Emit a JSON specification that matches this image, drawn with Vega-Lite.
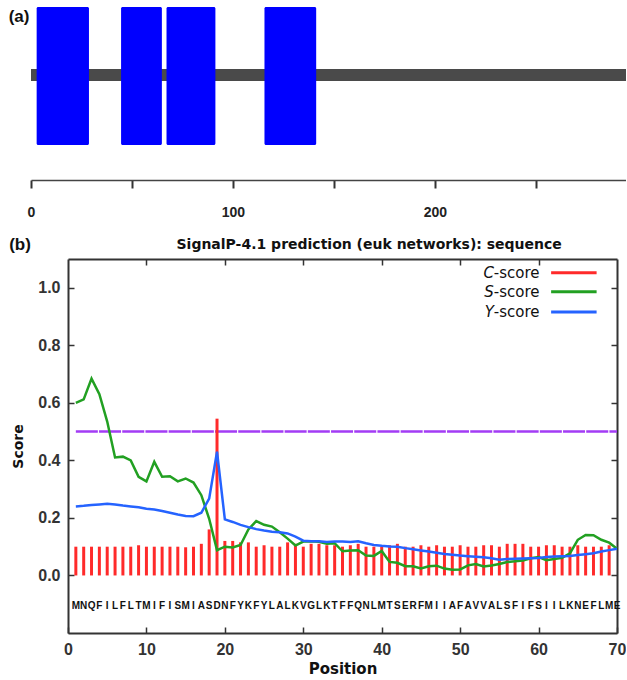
{
  "$schema": "https://vega.github.io/schema/vega-lite/v6.json",
  "padding": {"left": 8, "top": 0, "right": 0, "bottom": 0},
  "spacing": 17,
  "config": {"view": {"stroke": null}, "axis": {"grid": false}},
  "datasets": {
    "protein": [{"start": 0, "end": 300}],
    "domains": [
      {"start": 2.8, "end": 28.7},
      {"start": 44.6, "end": 64.8},
      {"start": 67.1, "end": 91.3},
      {"start": 115.6, "end": 141.2}
    ],
    "seq": [
      {"pos": 1, "aa": "M", "c": 0.100, "s": 0.600, "y": 0.240},
      {"pos": 2, "aa": "N", "c": 0.100, "s": 0.612, "y": 0.242},
      {"pos": 3, "aa": "Q", "c": 0.100, "s": 0.684, "y": 0.245},
      {"pos": 4, "aa": "F", "c": 0.100, "s": 0.630, "y": 0.247},
      {"pos": 5, "aa": "I", "c": 0.100, "s": 0.535, "y": 0.249},
      {"pos": 6, "aa": "L", "c": 0.100, "s": 0.410, "y": 0.247},
      {"pos": 7, "aa": "F", "c": 0.100, "s": 0.413, "y": 0.243},
      {"pos": 8, "aa": "L", "c": 0.100, "s": 0.400, "y": 0.240},
      {"pos": 9, "aa": "T", "c": 0.105, "s": 0.343, "y": 0.237},
      {"pos": 10, "aa": "M", "c": 0.100, "s": 0.327, "y": 0.232},
      {"pos": 11, "aa": "I", "c": 0.100, "s": 0.395, "y": 0.229},
      {"pos": 12, "aa": "F", "c": 0.100, "s": 0.343, "y": 0.224},
      {"pos": 13, "aa": "I", "c": 0.100, "s": 0.345, "y": 0.218},
      {"pos": 14, "aa": "S", "c": 0.100, "s": 0.327, "y": 0.212},
      {"pos": 15, "aa": "M", "c": 0.098, "s": 0.337, "y": 0.207},
      {"pos": 16, "aa": "I", "c": 0.100, "s": 0.323, "y": 0.206},
      {"pos": 17, "aa": "A", "c": 0.110, "s": 0.279, "y": 0.218},
      {"pos": 18, "aa": "S", "c": 0.160, "s": 0.197, "y": 0.267},
      {"pos": 19, "aa": "D", "c": 0.545, "s": 0.088, "y": 0.430},
      {"pos": 20, "aa": "N", "c": 0.120, "s": 0.100, "y": 0.195},
      {"pos": 21, "aa": "F", "c": 0.120, "s": 0.097, "y": 0.186},
      {"pos": 22, "aa": "Y", "c": 0.115, "s": 0.106, "y": 0.176},
      {"pos": 23, "aa": "K", "c": 0.115, "s": 0.160, "y": 0.168},
      {"pos": 24, "aa": "F", "c": 0.100, "s": 0.189, "y": 0.161},
      {"pos": 25, "aa": "Y", "c": 0.105, "s": 0.176, "y": 0.156},
      {"pos": 26, "aa": "L", "c": 0.100, "s": 0.170, "y": 0.152},
      {"pos": 27, "aa": "A", "c": 0.100, "s": 0.150, "y": 0.150},
      {"pos": 28, "aa": "L", "c": 0.115, "s": 0.128, "y": 0.146},
      {"pos": 29, "aa": "K", "c": 0.110, "s": 0.104, "y": 0.135},
      {"pos": 30, "aa": "V", "c": 0.100, "s": 0.118, "y": 0.121},
      {"pos": 31, "aa": "G", "c": 0.110, "s": 0.119, "y": 0.119},
      {"pos": 32, "aa": "L", "c": 0.110, "s": 0.117, "y": 0.119},
      {"pos": 33, "aa": "K", "c": 0.105, "s": 0.110, "y": 0.116},
      {"pos": 34, "aa": "T", "c": 0.105, "s": 0.112, "y": 0.118},
      {"pos": 35, "aa": "F", "c": 0.100, "s": 0.084, "y": 0.118},
      {"pos": 36, "aa": "F", "c": 0.105, "s": 0.087, "y": 0.116},
      {"pos": 37, "aa": "Q", "c": 0.110, "s": 0.088, "y": 0.119},
      {"pos": 38, "aa": "N", "c": 0.100, "s": 0.069, "y": 0.112},
      {"pos": 39, "aa": "L", "c": 0.100, "s": 0.068, "y": 0.106},
      {"pos": 40, "aa": "M", "c": 0.100, "s": 0.085, "y": 0.103},
      {"pos": 41, "aa": "T", "c": 0.105, "s": 0.047, "y": 0.101},
      {"pos": 42, "aa": "S", "c": 0.110, "s": 0.044, "y": 0.100},
      {"pos": 43, "aa": "E", "c": 0.100, "s": 0.032, "y": 0.095},
      {"pos": 44, "aa": "R", "c": 0.100, "s": 0.032, "y": 0.091},
      {"pos": 45, "aa": "F", "c": 0.105, "s": 0.024, "y": 0.087},
      {"pos": 46, "aa": "M", "c": 0.100, "s": 0.032, "y": 0.083},
      {"pos": 47, "aa": "I", "c": 0.105, "s": 0.034, "y": 0.079},
      {"pos": 48, "aa": "I", "c": 0.100, "s": 0.024, "y": 0.075},
      {"pos": 49, "aa": "A", "c": 0.100, "s": 0.020, "y": 0.072},
      {"pos": 50, "aa": "F", "c": 0.105, "s": 0.021, "y": 0.069},
      {"pos": 51, "aa": "A", "c": 0.100, "s": 0.035, "y": 0.067},
      {"pos": 52, "aa": "V", "c": 0.100, "s": 0.040, "y": 0.065},
      {"pos": 53, "aa": "V", "c": 0.105, "s": 0.031, "y": 0.063},
      {"pos": 54, "aa": "A", "c": 0.105, "s": 0.035, "y": 0.060},
      {"pos": 55, "aa": "L", "c": 0.100, "s": 0.040, "y": 0.055},
      {"pos": 56, "aa": "S", "c": 0.110, "s": 0.047, "y": 0.057},
      {"pos": 57, "aa": "F", "c": 0.110, "s": 0.049, "y": 0.058},
      {"pos": 58, "aa": "I", "c": 0.110, "s": 0.052, "y": 0.059},
      {"pos": 59, "aa": "F", "c": 0.100, "s": 0.060, "y": 0.060},
      {"pos": 60, "aa": "S", "c": 0.100, "s": 0.064, "y": 0.061},
      {"pos": 61, "aa": "I", "c": 0.105, "s": 0.053, "y": 0.064},
      {"pos": 62, "aa": "I", "c": 0.105, "s": 0.057, "y": 0.066},
      {"pos": 63, "aa": "L", "c": 0.100, "s": 0.061, "y": 0.067},
      {"pos": 64, "aa": "K", "c": 0.100, "s": 0.077, "y": 0.068},
      {"pos": 65, "aa": "N", "c": 0.105, "s": 0.124, "y": 0.071},
      {"pos": 66, "aa": "E", "c": 0.100, "s": 0.141, "y": 0.074},
      {"pos": 67, "aa": "F", "c": 0.100, "s": 0.140, "y": 0.077},
      {"pos": 68, "aa": "L", "c": 0.100, "s": 0.124, "y": 0.083},
      {"pos": 69, "aa": "M", "c": 0.105, "s": 0.114, "y": 0.088},
      {"pos": 70, "aa": "E", "c": null, "s": 0.093, "y": 0.093}
    ]
  },
  "vconcat": [
    {
      "width": 595,
      "height": 180,
      "layer": [
        {
          "data": {"name": "protein"},
          "mark": {"type": "rect", "color": "#4a4a4a", "clip": true},
          "encoding": {
            "x": {"field": "start", "type": "quantitative", "title": null,
              "scale": {"domain": [0, 294.6], "nice": false, "zero": false},
              "axis": {"values": [0, 50, 100, 150, 200, 250], "labelExpr": "datum.value % 100 === 0 ? datum.label : ''",
                "tickSize": 8, "tickWidth": 2, "tickColor": "#333", "domainColor": "#444", "domainWidth": 1.5,
                "labelFont": "Liberation Sans", "labelFontSize": 14, "labelFontWeight": "bold", "labelColor": "#222",
                "labelPadding": 17, "labelFlush": false, "title": null}},
            "x2": {"field": "end"},
            "y": {"datum": 99, "title": null, "scale": {"domain": [0, 180], "nice": false, "zero": false}, "axis": null},
            "y2": {"datum": 111}
          }
        },
        {
          "data": {"name": "domains"},
          "mark": {"type": "rect", "color": "#0000ff", "cornerRadius": 1.5},
          "encoding": {
            "x": {"field": "start", "type": "quantitative", "title": null, "scale": {"domain": [0, 294.6], "nice": false, "zero": false}},
            "x2": {"field": "end"},
            "y": {"datum": 35, "title": null, "scale": {"domain": [0, 180], "nice": false, "zero": false}, "axis": null},
            "y2": {"datum": 173}
          }
        },
        {
          "data": {"values": [{"label": "(a)"}]},
          "mark": {"type": "text", "font": "Liberation Sans", "fontSize": 17, "fontWeight": "bold", "color": "#111", "align": "center", "baseline": "middle"},
          "encoding": {
            "x": {"datum": -5.9, "title": null, "scale": {"domain": [0, 294.6], "nice": false, "zero": false}},
            "y": {"datum": 163, "title": null, "scale": {"domain": [0, 180], "nice": false, "zero": false}, "axis": null},
            "text": {"field": "label"}
          }
        }
      ]
    },
    {
      "width": 586,
      "height": 374,
      "data": {"name": "seq"},
      "resolve": {"axis": {"x": "independent", "y": "independent"}},
      "layer": [
        {
          "data": {"values": [{"cutoff": 0.5, "start": 1, "end": 70}]},
          "mark": {"type": "rule", "color": "#a33cf5", "strokeWidth": 2.5, "strokeDash": [22, 1.2], "strokeCap": "butt"},
          "encoding": {
            "x": {"field": "start", "type": "quantitative", "title": null,
              "scale": {"domain": [0, 70], "range": [37, 586], "nice": false, "zero": false},
              "axis": {"orient": "top", "values": [10, 20, 30, 40, 50, 60], "labels": false, "domain": true, "domainColor": "#333", "domainWidth": 2, "tickSize": -6, "tickWidth": 1.5, "tickColor": "#333", "title": null}},
            "x2": {"field": "end"},
            "y": {"field": "cutoff", "type": "quantitative", "title": null,
              "scale": {"domain": [-0.2, 1.1], "nice": false, "zero": false},
              "axis": {"orient": "right", "values": [0, 0.2, 0.4, 0.6, 0.8, 1.0], "labels": false, "domain": true, "domainColor": "#333", "domainWidth": 2, "tickSize": -6, "tickWidth": 1.5, "tickColor": "#333", "title": null}}
          }
        },
        {
          "mark": {"type": "rule", "color": "#ff2a2a", "strokeWidth": 3},
          "encoding": {
            "x": {"field": "pos", "type": "quantitative",
              "scale": {"domain": [0, 70], "range": [37, 586], "nice": false, "zero": false},
              "axis": {"orient": "bottom", "values": [0, 10, 20, 30, 40, 50, 60, 70], "domain": true, "domainColor": "#333", "domainWidth": 2, "tickSize": -6, "tickWidth": 1.5, "tickColor": "#333",
                "labelFont": "Liberation Sans", "labelFontSize": 16, "labelFontWeight": "bold", "labelColor": "#333", "labelPadding": 14, "labelFlush": false,
                "title": "Position", "titleFont": "DejaVu Sans", "titleFontSize": 15, "titleFontWeight": "bold", "titleColor": "#111", "titlePadding": 4, "titleX": 311.5}},
            "y": {"field": "c", "type": "quantitative",
              "scale": {"domain": [-0.2, 1.1], "nice": false, "zero": false},
              "axis": {"orient": "left", "offset": -37, "values": [0, 0.2, 0.4, 0.6, 0.8, 1.0], "format": ".1f", "domain": true, "domainColor": "#333", "domainWidth": 2, "tickSize": -6, "tickWidth": 1.5, "tickColor": "#333",
                "labelFont": "Liberation Sans", "labelFontSize": 16, "labelFontWeight": "bold", "labelColor": "#333", "labelPadding": 14,
                "title": "Score", "titleFont": "DejaVu Sans", "titleFontSize": 14, "titleFontWeight": "bold", "titleColor": "#111", "titlePadding": 12}},
            "y2": {"datum": 0}
          }
        },
        {
          "mark": {"type": "line", "color": "#22a022", "strokeWidth": 2.5},
          "encoding": {
            "x": {"field": "pos", "type": "quantitative", "scale": {"domain": [0, 70], "range": [37, 586], "nice": false, "zero": false}, "axis": null},
            "y": {"field": "s", "type": "quantitative", "scale": {"domain": [-0.2, 1.1], "nice": false, "zero": false}, "axis": null}
          }
        },
        {
          "mark": {"type": "line", "color": "#2563ff", "strokeWidth": 2.5},
          "encoding": {
            "x": {"field": "pos", "type": "quantitative", "scale": {"domain": [0, 70], "range": [37, 586], "nice": false, "zero": false}, "axis": null},
            "y": {"field": "y", "type": "quantitative", "scale": {"domain": [-0.2, 1.1], "nice": false, "zero": false}, "axis": null}
          }
        },
        {
          "mark": {"type": "text", "font": "Liberation Sans", "fontSize": 10, "fontWeight": "bold", "color": "#111", "align": "center", "baseline": "middle"},
          "encoding": {
            "x": {"field": "pos", "type": "quantitative", "scale": {"domain": [0, 70], "range": [37, 586], "nice": false, "zero": false}, "axis": null},
            "y": {"datum": -0.105, "scale": {"domain": [-0.2, 1.1], "nice": false, "zero": false}, "axis": null},
            "text": {"field": "aa"}
          }
        },
        {
          "data": {"values": [{"series": "C-score"}]},
          "mark": {"type": "rule", "color": "#ff2a2a", "strokeWidth": 3},
          "encoding": {
            "x": {"datum": 61.6, "scale": {"domain": [0, 70], "range": [37, 586], "nice": false, "zero": false}, "axis": null},
            "x2": {"datum": 67.4},
            "y": {"datum": 1.052, "scale": {"domain": [-0.2, 1.1], "nice": false, "zero": false}, "axis": null}
          }
        },
        {
          "data": {"values": [{"series": "S-score"}]},
          "mark": {"type": "rule", "color": "#22a022", "strokeWidth": 3},
          "encoding": {
            "x": {"datum": 61.6, "scale": {"domain": [0, 70], "range": [37, 586], "nice": false, "zero": false}, "axis": null},
            "x2": {"datum": 67.4},
            "y": {"datum": 0.986, "scale": {"domain": [-0.2, 1.1], "nice": false, "zero": false}, "axis": null}
          }
        },
        {
          "data": {"values": [{"series": "Y-score"}]},
          "mark": {"type": "rule", "color": "#2563ff", "strokeWidth": 3},
          "encoding": {
            "x": {"datum": 61.6, "scale": {"domain": [0, 70], "range": [37, 586], "nice": false, "zero": false}, "axis": null},
            "x2": {"datum": 67.4},
            "y": {"datum": 0.916, "scale": {"domain": [-0.2, 1.1], "nice": false, "zero": false}, "axis": null}
          }
        },
        {
          "data": {"values": [{"letter": "C"}]},
          "mark": {"type": "text", "font": "DejaVu Sans", "fontSize": 15, "fontStyle": "italic", "color": "#111", "align": "right", "baseline": "middle"},
          "encoding": {
            "x": {"datum": 54.3, "scale": {"domain": [0, 70], "range": [37, 586], "nice": false, "zero": false}, "axis": null},
            "y": {"datum": 1.052, "scale": {"domain": [-0.2, 1.1], "nice": false, "zero": false}, "axis": null},
            "text": {"field": "letter"}
          }
        },
        {
          "data": {"values": [{"letter": "S"}]},
          "mark": {"type": "text", "font": "DejaVu Sans", "fontSize": 15, "fontStyle": "italic", "color": "#111", "align": "right", "baseline": "middle"},
          "encoding": {
            "x": {"datum": 54.3, "scale": {"domain": [0, 70], "range": [37, 586], "nice": false, "zero": false}, "axis": null},
            "y": {"datum": 0.986, "scale": {"domain": [-0.2, 1.1], "nice": false, "zero": false}, "axis": null},
            "text": {"field": "letter"}
          }
        },
        {
          "data": {"values": [{"letter": "Y"}]},
          "mark": {"type": "text", "font": "DejaVu Sans", "fontSize": 15, "fontStyle": "italic", "color": "#111", "align": "right", "baseline": "middle"},
          "encoding": {
            "x": {"datum": 54.3, "scale": {"domain": [0, 70], "range": [37, 586], "nice": false, "zero": false}, "axis": null},
            "y": {"datum": 0.916, "scale": {"domain": [-0.2, 1.1], "nice": false, "zero": false}, "axis": null},
            "text": {"field": "letter"}
          }
        },
        {
          "data": {"values": [{"rest": "-score"}]},
          "mark": {"type": "text", "font": "DejaVu Sans", "fontSize": 15, "color": "#111", "align": "left", "baseline": "middle"},
          "encoding": {
            "x": {"datum": 54.3, "scale": {"domain": [0, 70], "range": [37, 586], "nice": false, "zero": false}, "axis": null},
            "y": {"datum": 1.052, "scale": {"domain": [-0.2, 1.1], "nice": false, "zero": false}, "axis": null},
            "text": {"field": "rest"}
          }
        },
        {
          "data": {"values": [{"rest": "-score"}]},
          "mark": {"type": "text", "font": "DejaVu Sans", "fontSize": 15, "color": "#111", "align": "left", "baseline": "middle"},
          "encoding": {
            "x": {"datum": 54.3, "scale": {"domain": [0, 70], "range": [37, 586], "nice": false, "zero": false}, "axis": null},
            "y": {"datum": 0.986, "scale": {"domain": [-0.2, 1.1], "nice": false, "zero": false}, "axis": null},
            "text": {"field": "rest"}
          }
        },
        {
          "data": {"values": [{"rest": "-score"}]},
          "mark": {"type": "text", "font": "DejaVu Sans", "fontSize": 15, "color": "#111", "align": "left", "baseline": "middle"},
          "encoding": {
            "x": {"datum": 54.3, "scale": {"domain": [0, 70], "range": [37, 586], "nice": false, "zero": false}, "axis": null},
            "y": {"datum": 0.916, "scale": {"domain": [-0.2, 1.1], "nice": false, "zero": false}, "axis": null},
            "text": {"field": "rest"}
          }
        },
        {
          "data": {"values": [{"label": "(b)"}]},
          "mark": {"type": "text", "font": "Liberation Sans", "fontSize": 17, "fontWeight": "bold", "color": "#111", "align": "center", "baseline": "middle"},
          "encoding": {
            "x": {"datum": -6.12, "scale": {"domain": [0, 70], "range": [37, 586], "nice": false, "zero": false}, "axis": null},
            "y": {"datum": 1.147, "scale": {"domain": [-0.2, 1.1], "nice": false, "zero": false}, "axis": null},
            "text": {"field": "label"}
          }
        },
        {
          "data": {"values": [{"title": "SignalP-4.1 prediction (euk networks): sequence"}]},
          "mark": {"type": "text", "font": "DejaVu Sans", "fontSize": 14, "fontWeight": "bold", "color": "#111", "align": "center", "baseline": "middle"},
          "encoding": {
            "x": {"datum": 38.4, "scale": {"domain": [0, 70], "range": [37, 586], "nice": false, "zero": false}, "axis": null},
            "y": {"datum": 1.147, "scale": {"domain": [-0.2, 1.1], "nice": false, "zero": false}, "axis": null},
            "text": {"field": "title"}
          }
        }
      ]
    }
  ]
}
